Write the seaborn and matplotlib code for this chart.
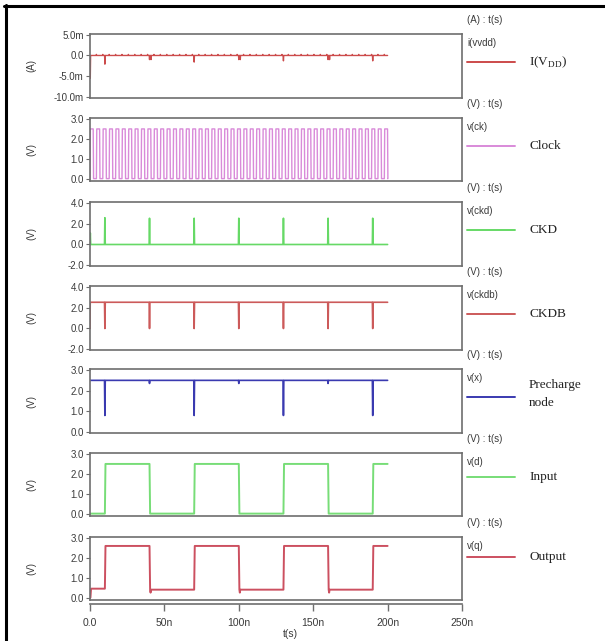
import numpy as np
import matplotlib
matplotlib.use("Agg")
import matplotlib.pyplot as plt
from matplotlib.lines import Line2D
import seaborn as sns

# ---------------- data (times in ns) ----------------
t_start_ns = 0.0
t_stop_ns = 200.0
event_times_ns = [10, 40, 70, 100, 130, 160, 190]

# clock: square wave 0 / 2.5 V
clock_period_ns = 4.3
clock_high_v = 2.5

# I(VDD) in mA: baseline 0 with spikes
idd_spike_times = [0.2, 10, 40, 41, 70, 100, 101, 130, 160, 161, 190]
idd_spike_mA = [-5.5, -2.1, -1.0, -1.0, -1.6, -1.0, -1.0, -1.3, -1.0, -1.0, -1.3]
idd_blip_mA = 0.25

# CKD: baseline 0 with positive spikes
ckd_spike_times = [0.2, 10, 40, 70, 100, 130, 160, 190]
ckd_spike_v = [1.1, 2.55, 2.5, 2.5, 2.5, 2.5, 2.5, 2.5]

# CKDB: baseline 2.5 with negative spikes
ckdb_base_v = 2.5
ckdb_spike_times = [10, 40, 70, 100, 130, 160, 190]
ckdb_spike_v = [0.0, 0.0, 0.0, 0.0, 0.0, 0.0, 0.0]

# Precharge node v(x)
prech_base_v = 2.5
prech_spike_times = [10, 40, 70, 100, 130, 160, 190]
prech_spike_v = [0.8, 2.35, 0.8, 2.35, 0.8, 2.35, 0.8]

# Input v(d)
input_edges = [10, 40, 70, 100, 130, 160, 190]
input_levels = [0.0, 2.5, 0.0, 2.5, 0.0, 2.5, 0.0, 2.5]

# Output v(q)
output_edges = [0.3, 10, 40, 70, 100, 130, 160, 190]
output_levels = [0.0, 0.45, 2.6, 0.4, 2.6, 0.4, 2.6, 0.4, 2.6]
output_fall_dip_v = 0.25

x_ticks = [0, 50, 100, 150, 200, 250]
x_ticklabels = ["0.0", "50n", "100n", "150n", "200n", "250n"]


# ---------------- waveform helpers ----------------
def steps(edges, levels, rise=0.4, dip=None):
    t = [t_start_ns]
    y = [levels[0]]
    for e, a, b in zip(edges, levels[:-1], levels[1:]):
        t += [e, e + rise]
        y += [a, b]
        if dip is not None and b < a:
            t += [e + rise + 0.3, e + rise + 0.6]
            y += [dip, b]
    t.append(t_stop_ns)
    y.append(levels[-1])
    return np.array(t), np.array(y)


def spikes(base, times, peaks, width=0.25, start=None):
    t = [t_start_ns]
    y = [base if start is None else start]
    if start is not None:
        t.append(0.15)
        y.append(base)
    for ts, p in sorted(zip(times, peaks)):
        t += [ts - width, ts, ts + width]
        y += [base, p, base]
    t.append(t_stop_ns)
    y.append(base)
    return np.array(t), np.array(y)


def clock_wave():
    edges = np.arange(0.0, t_stop_ns, clock_period_ns / 2)
    t, y = [], []
    lvl = 0.0
    for e in edges:
        nxt = clock_high_v if lvl == 0.0 else 0.0
        t += [e, e + 0.25]
        y += [lvl, nxt]
        lvl = nxt
    t.append(t_stop_ns)
    y.append(lvl)
    return np.array(t), np.array(y)


clk_t, clk_y = clock_wave()
blip_times = list(np.arange(clock_period_ns, t_stop_ns, clock_period_ns))
idd_t, idd_y = spikes(0.0, idd_spike_times + blip_times,
                      idd_spike_mA + [idd_blip_mA] * len(blip_times), width=0.2)
ckd_t, ckd_y = spikes(0.0, ckd_spike_times, ckd_spike_v)
ckdb_t, ckdb_y = spikes(ckdb_base_v, ckdb_spike_times, ckdb_spike_v, start=0.0)
prech_t, prech_y = spikes(prech_base_v, prech_spike_times, prech_spike_v)
in_t, in_y = steps(input_edges, input_levels)
out_t, out_y = steps(output_edges, output_levels, dip=output_fall_dip_v)

# ---------------- figure ----------------
sns.set_style("white")
plt.rcParams["font.family"] = ["Liberation Sans", "DejaVu Sans"]
plt.rcParams["mathtext.fontset"] = "custom"
plt.rcParams["mathtext.rm"] = "Liberation Serif"

W, H = 605, 641
fig = plt.figure(figsize=(W / 100, H / 100), dpi=100)
fig.patch.set_facecolor("white")

LEFT, RIGHT = 90, 462
SPINE = "#6e6e6e"
TXT = "#3a3a3a"

panels = [
    dict(t=idd_t, y=idd_y, color="#cc4b4b", top=34, bot=98, ylim=(-10.3, 5.2),
         yt=[-10, -5, 0, 5], ytl=["-10.0m", "-5.0m", "0.0", "5.0m"], unit="(A)",
         hdr="(A) : t(s)", sig="i(vvdd)", name=r"I(V$_{\rm DD}$)", lw=1.0),
    dict(t=clk_t, y=clk_y, color="#d98ad9", top=118, bot=181, ylim=(-0.12, 3.05),
         yt=[0, 1, 2, 3], ytl=["0.0", "1.0", "2.0", "3.0"], unit="(V)",
         hdr="(V) : t(s)", sig="v(ck)", name="Clock", lw=1.0),
    dict(t=ckd_t, y=ckd_y, color="#66d966", top=202, bot=266, ylim=(-2.05, 4.05),
         yt=[-2, 0, 2, 4], ytl=["-2.0", "0.0", "2.0", "4.0"], unit="(V)",
         hdr="(V) : t(s)", sig="v(ckd)", name="CKD", lw=1.2),
    dict(t=ckdb_t, y=ckdb_y, color="#cc5a5a", top=286, bot=350, ylim=(-2.05, 4.05),
         yt=[-2, 0, 2, 4], ytl=["-2.0", "0.0", "2.0", "4.0"], unit="(V)",
         hdr="(V) : t(s)", sig="v(ckdb)", name="CKDB", lw=1.2),
    dict(t=prech_t, y=prech_y, color="#3a3ab0", top=369, bot=433, ylim=(-0.05, 3.05),
         yt=[0, 1, 2, 3], ytl=["0.0", "1.0", "2.0", "3.0"], unit="(V)",
         hdr="(V) : t(s)", sig="v(x)", name="Precharge\nnode", lw=1.2),
    dict(t=in_t, y=in_y, color="#77dd77", top=453, bot=516, ylim=(-0.12, 3.05),
         yt=[0, 1, 2, 3], ytl=["0.0", "1.0", "2.0", "3.0"], unit="(V)",
         hdr="(V) : t(s)", sig="v(d)", name="Input", lw=1.4),
    dict(t=out_t, y=out_y, color="#cc5060", top=537, bot=600, ylim=(-0.12, 3.05),
         yt=[0, 1, 2, 3], ytl=["0.0", "1.0", "2.0", "3.0"], unit="(V)",
         hdr="(V) : t(s)", sig="v(q)", name="Output", lw=1.4),
]


def fx(px):
    return px / W


def fy(py):
    return 1 - py / H


for p in panels:
    ax = fig.add_axes([fx(LEFT), fy(p["bot"]), fx(RIGHT - LEFT), (p["bot"] - p["top"]) / H])
    sns.lineplot(x=p["t"], y=p["y"], ax=ax, color=p["color"], linewidth=p["lw"],
                 sort=False, estimator=None)
    ax.set_xlim(0, 250)
    ax.set_ylim(*p["ylim"])
    ax.set_xticks([])
    ax.set_yticks(p["yt"])
    ax.set_yticklabels(p["ytl"])
    ax.tick_params(axis="y", direction="out", length=3, width=0.8, color=SPINE,
                   labelsize=7, labelcolor=TXT, pad=1.5, left=True)
    for s in ax.spines.values():
        s.set_visible(True)
        s.set_color(SPINE)
        s.set_linewidth(1.2)
    ax.set_xlabel("")
    ax.set_ylabel("")
    yc = (p["top"] + p["bot"]) / 2
    fig.text(fx(31), fy(yc), p["unit"], rotation=90, ha="center", va="center",
             fontsize=7, color=TXT)
    # right-side annotations
    fig.text(fx(467), fy(p["top"] - 14), p["hdr"], ha="left", va="center",
             fontsize=7, color=TXT)
    fig.text(fx(467), fy(p["top"] + 9), p["sig"], ha="left", va="center",
             fontsize=7, color=TXT)
    ly = p["top"] + 28 if p["name"] != "Output" else p["top"] + 20
    if p["name"] == "Input":
        ly = p["top"] + 24
    fig.add_artist(Line2D([fx(467), fx(515)], [fy(ly), fy(ly)], color=p["color"],
                          linewidth=1.4, transform=fig.transFigure))
    name_y = ly if "\n" not in p["name"] else ly - 3
    fig.text(fx(529), fy(name_y), p["name"], ha="left", va="center", fontsize=9.5,
             family=["Liberation Serif", "DejaVu Serif"], color="#222222",
             linespacing=1.6)

# x axis below the stack
axx = fig.add_axes([fx(LEFT), fy(604), fx(RIGHT - LEFT), 0.0001])
axx.set_xlim(0, 250)
axx.set_yticks([])
axx.set_xticks(x_ticks)
axx.set_xticklabels(x_ticklabels)
for k in ["left", "right", "top"]:
    axx.spines[k].set_visible(False)
axx.spines["bottom"].set_color(SPINE)
axx.spines["bottom"].set_linewidth(1.2)
axx.tick_params(axis="x", direction="out", length=5, width=1.0, color=SPINE,
                labelsize=7.5, labelcolor=TXT, pad=5, bottom=True)
fig.text(fx(290), fy(634), "t(s)", ha="center", va="center", fontsize=7.5, color=TXT)

# black frame lines (top and left)
fig.add_artist(Line2D([fx(4), 1.0], [fy(6), fy(6)], color="black", linewidth=2.2,
                      transform=fig.transFigure))
fig.add_artist(Line2D([fx(5.5), fx(5.5)], [fy(5), 0.0], color="black", linewidth=2.2,
                      transform=fig.transFigure))

fig.savefig("out.png", dpi=100, facecolor="white")
